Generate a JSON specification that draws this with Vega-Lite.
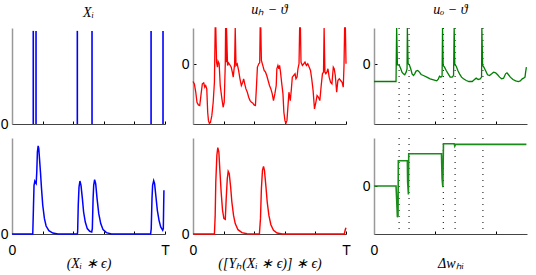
{
  "$schema": "https://vega.github.io/schema/vega-lite/v6.json",
  "padding": {"left": 0, "top": 3, "right": 4, "bottom": 2},
  "background": "white",
  "config": {
    "view": {"stroke": null},
    "axis": {"grid": false, "labelFont": "Liberation Sans", "labelFontSize": 14, "labelColor": "#000", "tickColor": "#000", "titleFont": "Liberation Serif", "titleFontStyle": "italic", "titleFontWeight": "normal", "titleFontSize": 14, "titleColor": "#000"},
    "title": {"font": "Liberation Serif", "fontStyle": "italic", "fontWeight": "normal", "fontSize": 14, "color": "#000", "offset": 8}
  },
  "datasets": {
    "inSpikes": [{"t": 0.139}, {"t": 0.157}, {"t": 0.427}, {"t": 0.523}, {"t": 0.909}, {"t": 0.987}],
    "outSpikes": [{"t": 0.164}, {"t": 0.229}, {"t": 0.453}, {"t": 0.53}, {"t": 0.712}],
    "inTrace": [
      {"t": 0, "v": 0}, {"t": 0.1357, "v": 0}, {"t": 0.14, "v": 0.264}, {"t": 0.144, "v": 0.507}, {"t": 0.149, "v": 0.549}, {"t": 0.153, "v": 0.535}, {"t": 0.158, "v": 0.524}, {"t": 0.162, "v": 0.646}, {"t": 0.166, "v": 0.854}, {"t": 0.171, "v": 0.917}, {"t": 0.175, "v": 0.889}, {"t": 0.179, "v": 0.802}, {"t": 0.186, "v": 0.646}, {"t": 0.193, "v": 0.472}, {"t": 0.201, "v": 0.299}, {"t": 0.212, "v": 0.16}, {"t": 0.223, "v": 0.083}, {"t": 0.241, "v": 0.035}, {"t": 0.267, "v": 0.01}, {"t": 0.3, "v": 0},
      {"t": 0.427, "v": 0}, {"t": 0.429, "v": 0.021}, {"t": 0.433, "v": 0.299}, {"t": 0.438, "v": 0.49}, {"t": 0.444, "v": 0.552}, {"t": 0.451, "v": 0.507}, {"t": 0.46, "v": 0.368}, {"t": 0.468, "v": 0.229}, {"t": 0.479, "v": 0.125}, {"t": 0.492, "v": 0.056}, {"t": 0.508, "v": 0.028}, {"t": 0.521, "v": 0.021}, {"t": 0.525, "v": 0.056}, {"t": 0.53, "v": 0.368}, {"t": 0.534, "v": 0.507}, {"t": 0.54, "v": 0.566}, {"t": 0.547, "v": 0.524}, {"t": 0.556, "v": 0.368}, {"t": 0.567, "v": 0.212}, {"t": 0.58, "v": 0.108}, {"t": 0.595, "v": 0.045}, {"t": 0.617, "v": 0.014}, {"t": 0.65, "v": 0},
      {"t": 0.906, "v": 0}, {"t": 0.91, "v": 0.056}, {"t": 0.915, "v": 0.368}, {"t": 0.919, "v": 0.507}, {"t": 0.926, "v": 0.556}, {"t": 0.932, "v": 0.524}, {"t": 0.941, "v": 0.385}, {"t": 0.95, "v": 0.247}, {"t": 0.961, "v": 0.142}, {"t": 0.972, "v": 0.073}, {"t": 0.985, "v": 0.038}, {"t": 0.989, "v": 0.056}, {"t": 0.991, "v": 0.264}, {"t": 0.993, "v": 0.455}
    ],
    "hidden": [
      {"t": 0, "v": -2.92}, {"t": 0.009, "v": -3.31}, {"t": 0.018, "v": -4.7}, {"t": 0.026, "v": -6.38}, {"t": 0.035, "v": -6.82}, {"t": 0.044, "v": -6.93}, {"t": 0.053, "v": -4.98}, {"t": 0.061, "v": -3.31}, {"t": 0.07, "v": -3.14}, {"t": 0.077, "v": -3.87}, {"t": 0.083, "v": -3.59}, {"t": 0.09, "v": -4.15}, {"t": 0.096, "v": -8.05}, {"t": 0.101, "v": -9.44}, {"t": 0.107, "v": -9.89}, {"t": 0.114, "v": -9.72}, {"t": 0.123, "v": -8.61}, {"t": 0.132, "v": -6.38}, {"t": 0.14, "v": -3.03},
      {"t": 0.145, "v": 6}, {"t": 0.149, "v": 6}, {"t": 0.154, "v": 0.31}, {"t": 0.16, "v": -0.52}, {"t": 0.164, "v": 0.43}, {"t": 0.171, "v": 0.04}, {"t": 0.178, "v": -3.59}, {"t": 0.189, "v": -5.82}, {"t": 0.197, "v": -7.21}, {"t": 0.204, "v": -6.38}, {"t": 0.211, "v": 0.04}, {"t": 0.213, "v": 6}, {"t": 0.217, "v": 0.31}, {"t": 0.219, "v": 6}, {"t": 0.226, "v": -0.24}, {"t": 0.232, "v": 0.2}, {"t": 0.241, "v": -0.13}, {"t": 0.25, "v": -0.52}, {"t": 0.257, "v": -1.36}, {"t": 0.263, "v": -2.19}, {"t": 0.272, "v": 0.04}, {"t": 0.276, "v": 6}, {"t": 0.281, "v": -0.24}, {"t": 0.289, "v": 0.04}, {"t": 0.298, "v": -1.08}, {"t": 0.307, "v": -2.47}, {"t": 0.316, "v": -3.59}, {"t": 0.325, "v": -3.03}, {"t": 0.331, "v": -2.47}, {"t": 0.338, "v": -3.31}, {"t": 0.346, "v": -4.15}, {"t": 0.355, "v": -4.7}, {"t": 0.364, "v": -5.54}, {"t": 0.373, "v": -6.1}, {"t": 0.382, "v": -6.38}, {"t": 0.39, "v": -6.49}, {"t": 0.399, "v": -6.82}, {"t": 0.408, "v": -6.93}, {"t": 0.414, "v": -4.15}, {"t": 0.421, "v": -0.52}, {"t": 0.43, "v": 0.04}, {"t": 0.436, "v": 0.2},
      {"t": 0.439, "v": 6}, {"t": 0.443, "v": 6}, {"t": 0.447, "v": 0.59}, {"t": 0.456, "v": -0.24}, {"t": 0.465, "v": -1.08}, {"t": 0.474, "v": -1.36}, {"t": 0.482, "v": -1.92}, {"t": 0.491, "v": -2.75}, {"t": 0.5, "v": -3.59}, {"t": 0.509, "v": -4.15}, {"t": 0.518, "v": -4.98}, {"t": 0.526, "v": -6.1}, {"t": 0.535, "v": -4.98}, {"t": 0.544, "v": -3.59}, {"t": 0.548, "v": -0.8}, {"t": 0.555, "v": -0.24}, {"t": 0.561, "v": -0.8}, {"t": 0.566, "v": -0.24}, {"t": 0.572, "v": -1.36}, {"t": 0.579, "v": -3.03}, {"t": 0.588, "v": -4.98}, {"t": 0.594, "v": -8.05}, {"t": 0.601, "v": -9.44}, {"t": 0.607, "v": -9.89}, {"t": 0.614, "v": -9.44}, {"t": 0.621, "v": -6.93}, {"t": 0.627, "v": -4.7}, {"t": 0.636, "v": -6.1}, {"t": 0.643, "v": -4.15}, {"t": 0.649, "v": -2.19}, {"t": 0.658, "v": -1.92}, {"t": 0.667, "v": -1.64}, {"t": 0.673, "v": -2.47}, {"t": 0.68, "v": -2.19}, {"t": 0.686, "v": -0.8}, {"t": 0.693, "v": 0.04},
      {"t": 0.697, "v": 6}, {"t": 0.702, "v": 6}, {"t": 0.706, "v": 0.31}, {"t": 0.715, "v": -0.24}, {"t": 0.724, "v": 0.04}, {"t": 0.732, "v": 0.31}, {"t": 0.741, "v": -0.24}, {"t": 0.75, "v": 0.04}, {"t": 0.759, "v": -0.52}, {"t": 0.768, "v": -1.08}, {"t": 0.776, "v": -2.47}, {"t": 0.785, "v": -4.43}, {"t": 0.794, "v": -7.49}, {"t": 0.803, "v": -6.38}, {"t": 0.811, "v": -5.26}, {"t": 0.82, "v": -5.54}, {"t": 0.829, "v": -6.1}, {"t": 0.838, "v": -3.59}, {"t": 0.846, "v": -1.64}, {"t": 0.853, "v": -1.36}, {"t": 0.857, "v": 6}, {"t": 0.862, "v": -1.36}, {"t": 0.868, "v": -1.64}, {"t": 0.875, "v": -1.36}, {"t": 0.882, "v": -0.8}, {"t": 0.89, "v": -2.19}, {"t": 0.899, "v": -3.03}, {"t": 0.908, "v": -3.31}, {"t": 0.917, "v": -0.52}, {"t": 0.923, "v": -0.8}, {"t": 0.93, "v": -1.92}, {"t": 0.939, "v": -4.7}, {"t": 0.947, "v": -2.75}, {"t": 0.956, "v": -2.47}, {"t": 0.965, "v": -2.75}, {"t": 0.974, "v": -3.03}, {"t": 0.982, "v": -3.87}, {"t": 0.987, "v": -0.24}, {"t": 0.991, "v": 6}, {"t": 0.996, "v": 6}, {"t": 1, "v": 0.04}
    ],
    "hiddenTrace": [
      {"t": 0, "v": 0}, {"t": 0.14, "v": 0}, {"t": 0.145, "v": 0.194}, {"t": 0.149, "v": 0.542}, {"t": 0.156, "v": 0.819}, {"t": 0.162, "v": 0.899}, {"t": 0.169, "v": 0.854}, {"t": 0.175, "v": 0.681}, {"t": 0.184, "v": 0.438}, {"t": 0.193, "v": 0.247}, {"t": 0.202, "v": 0.16}, {"t": 0.211, "v": 0.153}, {"t": 0.217, "v": 0.368}, {"t": 0.224, "v": 0.576}, {"t": 0.23, "v": 0.653}, {"t": 0.237, "v": 0.628}, {"t": 0.246, "v": 0.49}, {"t": 0.254, "v": 0.333}, {"t": 0.265, "v": 0.194}, {"t": 0.276, "v": 0.108}, {"t": 0.294, "v": 0.045}, {"t": 0.32, "v": 0.014}, {"t": 0.353, "v": 0.003}, {"t": 0.397, "v": 0},
      {"t": 0.434, "v": 0}, {"t": 0.441, "v": 0.16}, {"t": 0.447, "v": 0.472}, {"t": 0.454, "v": 0.663}, {"t": 0.461, "v": 0.705}, {"t": 0.467, "v": 0.663}, {"t": 0.476, "v": 0.507}, {"t": 0.485, "v": 0.333}, {"t": 0.496, "v": 0.194}, {"t": 0.509, "v": 0.097}, {"t": 0.526, "v": 0.038}, {"t": 0.55, "v": 0.01}, {"t": 0.583, "v": 0}, {"t": 0.989, "v": 0}, {"t": 0.996, "v": 0.049}, {"t": 1, "v": 0.066}
    ],
    "output": [
      {"t": 0, "v": -2.92}, {"t": 0.144, "v": -2.92}, {"t": 0.148, "v": 6}, {"t": 0.153, "v": -0.13}, {"t": 0.166, "v": -0.24}, {"t": 0.175, "v": -0.8}, {"t": 0.183, "v": -1.36}, {"t": 0.192, "v": -1.64}, {"t": 0.201, "v": -1.8}, {"t": 0.21, "v": -1.36}, {"t": 0.216, "v": -0.8},
      {"t": 0.218, "v": 6}, {"t": 0.223, "v": 0.04}, {"t": 0.231, "v": -0.13}, {"t": 0.24, "v": -0.8}, {"t": 0.249, "v": -1.64}, {"t": 0.258, "v": -1.92}, {"t": 0.266, "v": -1.64}, {"t": 0.275, "v": -1.19}, {"t": 0.286, "v": -1.08}, {"t": 0.297, "v": -1.36}, {"t": 0.308, "v": -1.75}, {"t": 0.323, "v": -1.92}, {"t": 0.345, "v": -2.19}, {"t": 0.367, "v": -2.47}, {"t": 0.389, "v": -2.64}, {"t": 0.41, "v": -2.81}, {"t": 0.421, "v": -2.47}, {"t": 0.428, "v": -2.03}, {"t": 0.437, "v": -2.19}, {"t": 0.445, "v": -2.03},
      {"t": 0.448, "v": 6}, {"t": 0.452, "v": -0.24}, {"t": 0.461, "v": -0.52}, {"t": 0.472, "v": -1.08}, {"t": 0.485, "v": -1.64}, {"t": 0.498, "v": -2.19}, {"t": 0.511, "v": -2.19}, {"t": 0.52, "v": -1.92},
      {"t": 0.524, "v": 6}, {"t": 0.528, "v": -0.13}, {"t": 0.537, "v": -0.35}, {"t": 0.548, "v": -1.08}, {"t": 0.559, "v": -1.64}, {"t": 0.572, "v": -2.19}, {"t": 0.585, "v": -2.47}, {"t": 0.603, "v": -2.75}, {"t": 0.62, "v": -2.92}, {"t": 0.642, "v": -2.92}, {"t": 0.655, "v": -2.64}, {"t": 0.668, "v": -2.36}, {"t": 0.681, "v": -2.58}, {"t": 0.694, "v": -2.47}, {"t": 0.703, "v": -2.19},
      {"t": 0.705, "v": 6}, {"t": 0.71, "v": -0.24}, {"t": 0.718, "v": -0.52}, {"t": 0.729, "v": -1.08}, {"t": 0.742, "v": -1.8}, {"t": 0.755, "v": -1.92}, {"t": 0.769, "v": -1.64}, {"t": 0.782, "v": -1.36}, {"t": 0.795, "v": -1.47}, {"t": 0.808, "v": -1.8}, {"t": 0.821, "v": -2.19}, {"t": 0.834, "v": -2.47}, {"t": 0.847, "v": -2.36}, {"t": 0.86, "v": -1.64}, {"t": 0.869, "v": -1.47}, {"t": 0.878, "v": -1.75}, {"t": 0.891, "v": -2.19}, {"t": 0.908, "v": -2.58}, {"t": 0.926, "v": -2.81}, {"t": 0.943, "v": -2.92}, {"t": 0.956, "v": -2.81}, {"t": 0.969, "v": -2.47}, {"t": 0.978, "v": -2.36}, {"t": 0.987, "v": -2.19}, {"t": 0.991, "v": -1.36}, {"t": 0.996, "v": -0.52}
    ],
    "weight": [
      {"t": 0, "v": 0}, {"t": 0.144, "v": 0}, {"t": 0.148, "v": -1.07}, {"t": 0.153, "v": -2.61}, {"t": 0.157, "v": -2.47}, {"t": 0.159, "v": 2.1}, {"t": 0.218, "v": 2.1}, {"t": 0.22, "v": 0.32}, {"t": 0.225, "v": -0.71}, {"t": 0.227, "v": 2.69}, {"t": 0.441, "v": 2.69}, {"t": 0.445, "v": 0.6}, {"t": 0.45, "v": -0.1}, {"t": 0.454, "v": 3.52}, {"t": 0.524, "v": 3.52}, {"t": 0.528, "v": 3.33}, {"t": 0.533, "v": 3.47}, {"t": 0.996, "v": 3.47}
    ]
  },
  "concat": [
    {
      "width": 153, "height": 96,
      "title": "Xᵢ",
      "data": {"name": "inSpikes"},
      "mark": {"type": "rule", "color": "#0000ff", "strokeWidth": 1.6},
      "encoding": {
        "x": {"field": "t", "type": "quantitative", "scale": {"domain": [0, 1], "nice": false}, "axis": {"values": [0, 0.2, 0.4, 0.6, 0.8, 1], "labels": false, "title": null, "tickSize": -3, "domainColor": "#444"}},
        "y": {"datum": 0, "type": "quantitative", "scale": {"domain": [0, 1], "nice": false}, "axis": {"values": [0], "labelExpr": "'0'", "title": null, "tickSize": 0, "labelPadding": 4, "domainColor": "#999", "domainWidth": 1.5}},
        "y2": {"datum": 0.97}
      }
    },
    {
      "width": 153, "height": 96,
      "title": "uₕ − ϑ",
      "data": {"name": "hidden"},
      "mark": {"type": "line", "color": "#ff0000", "strokeWidth": 1.3},
      "encoding": {
        "x": {"field": "t", "type": "quantitative", "scale": {"domain": [0, 1], "nice": false}, "axis": {"values": [0, 0.2, 0.4, 0.6, 0.8, 1], "labels": false, "title": null, "tickSize": -3, "domainColor": "#444"}},
        "y": {"field": "v", "type": "quantitative", "scale": {"domain": [-10, 6], "nice": false, "zero": false}, "axis": {"values": [0], "labelExpr": "'0'", "title": null, "tickSize": -3, "labelPadding": 7, "domainColor": "#999", "domainWidth": 1.5}}
      }
    },
    {
      "width": 153, "height": 96,
      "title": "uₒ − ϑ",
      "layer": [
        {
          "data": {"name": "outSpikes"},
          "mark": {"type": "rule", "color": "#000", "strokeWidth": 1, "strokeDash": [1, 5]},
          "encoding": {"x": {"field": "t", "type": "quantitative"}}
        },
        {
          "data": {"name": "output"},
          "mark": {"type": "line", "color": "#008000", "strokeWidth": 1.3},
          "encoding": {
            "x": {"field": "t", "type": "quantitative", "scale": {"domain": [0, 1], "nice": false}, "axis": {"values": [0, 0.2, 0.4, 0.6, 0.8, 1], "labels": false, "title": null, "tickSize": -3, "domainColor": "#444"}},
            "y": {"field": "v", "type": "quantitative", "scale": {"domain": [-10, 6], "nice": false, "zero": false}, "axis": {"values": [0], "labelExpr": "'0'", "title": null, "tickSize": -3, "labelPadding": 7, "domainColor": "#999", "domainWidth": 1.5}}
          }
        }
      ]
    },
    {
      "width": 153, "height": 96,
      "data": {"name": "inTrace"},
      "mark": {"type": "line", "color": "#0000ff", "strokeWidth": 1.5},
      "encoding": {
        "x": {"field": "t", "type": "quantitative", "scale": {"domain": [0, 1], "nice": false}, "axis": {"values": [0, 0.2, 0.4, 0.6, 0.8, 1], "labelExpr": "datum.value == 0 ? '0' : datum.value == 1 ? 'T' : ''", "labelFlush": false, "labelPadding": 12, "title": "(Xᵢ ∗ ϵ)", "titlePadding": -1, "tickSize": -3, "domainColor": "#444"}},
        "y": {"field": "v", "type": "quantitative", "scale": {"domain": [0, 1], "nice": false}, "axis": {"values": [0], "labelExpr": "'0'", "title": null, "tickSize": 0, "labelPadding": 4, "domainColor": "#999", "domainWidth": 1.5}}
      }
    },
    {
      "width": 153, "height": 96,
      "data": {"name": "hiddenTrace"},
      "mark": {"type": "line", "color": "#ff0000", "strokeWidth": 1.4},
      "encoding": {
        "x": {"field": "t", "type": "quantitative", "scale": {"domain": [0, 1], "nice": false}, "axis": {"values": [0, 0.2, 0.4, 0.6, 0.8, 1], "labelExpr": "datum.value == 0 ? '0' : datum.value == 1 ? 'T' : ''", "labelFlush": false, "labelPadding": 12, "title": "([Yₕ(Xᵢ ∗ ϵ)] ∗ ϵ)", "titlePadding": -1, "tickSize": -3, "domainColor": "#444"}},
        "y": {"field": "v", "type": "quantitative", "scale": {"domain": [0, 1], "nice": false}, "axis": {"values": [0], "labelExpr": "'0'", "title": null, "tickSize": 0, "labelPadding": 4, "domainColor": "#999", "domainWidth": 1.5}}
      }
    },
    {
      "width": 153, "height": 96,
      "layer": [
        {
          "data": {"name": "outSpikes"},
          "mark": {"type": "rule", "color": "#000", "strokeWidth": 1, "strokeDash": [1, 5]},
          "encoding": {"x": {"field": "t", "type": "quantitative"}}
        },
        {
          "data": {"name": "weight"},
          "mark": {"type": "line", "color": "#1a8c1a", "strokeWidth": 1.6},
          "encoding": {
            "x": {"field": "t", "type": "quantitative", "scale": {"domain": [0, 1], "nice": false}, "axis": {"values": [0, 0.2, 0.4, 0.6, 0.8, 1], "labelExpr": "datum.value == 0 ? '0' : datum.value == 1 ? 'T' : ''", "labelFlush": false, "labelPadding": 12, "title": "Δwₕᵢ", "titlePadding": -1, "tickSize": -3, "domainColor": "#444"}},
            "y": {"field": "v", "type": "quantitative", "scale": {"domain": [-4, 4], "nice": false, "zero": false}, "axis": {"values": [0], "labelExpr": "'0'", "title": null, "tickSize": -3, "labelPadding": 7, "domainColor": "#999", "domainWidth": 1.5}}
          }
        }
      ]
    }
  ],
  "columns": 3,
  "spacing": {"row": 14, "column": 28},
  "resolve": {"scale": {"x": "independent", "y": "independent"}},
  "bounds": "flush"
}
